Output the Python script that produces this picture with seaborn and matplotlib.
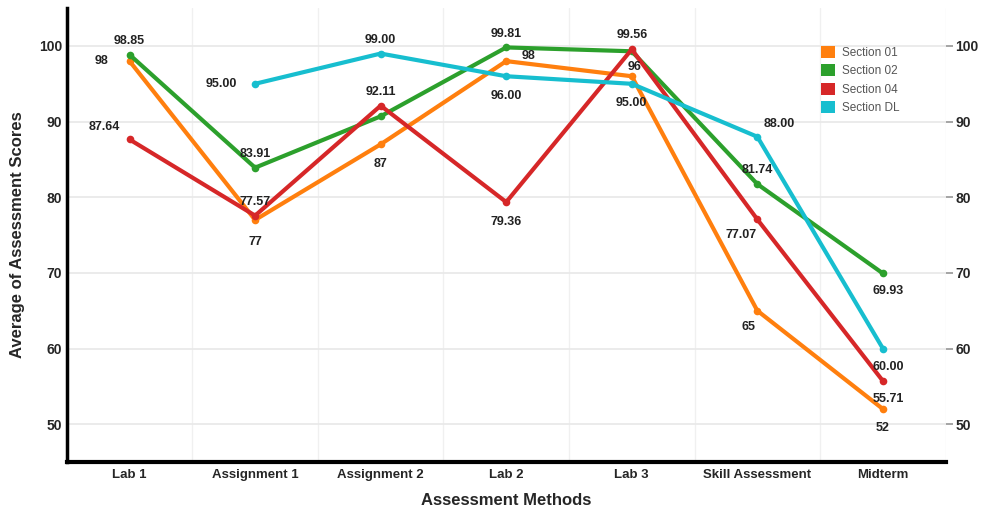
import numpy as np
import matplotlib
matplotlib.use("Agg")
import matplotlib.pyplot as plt
import pandas as pd
import seaborn as sns
from matplotlib.patches import Patch


categories = ["Lab 1", "Assignment 1", "Assignment 2", "Lab 2", "Lab 3", "Skill Assessment", "Midterm"]
sections = ["Section 01", "Section 02", "Section 04", "Section DL"]

section_01 = [98, 77, 87, 98, 96, 65, 52]
section_02 = [98.85, 83.91, 90.7, 99.81, 99.3, 81.74, 69.93]
section_04 = [87.64, 77.57, 92.11, 79.36, 99.56, 77.07, 55.71]
section_dl = [np.nan, 95.00, 99.00, 96.00, 95.00, 88.00, 60.00]

labels_01 = ["98", "77", "87", "98", "96", "65", "52"]
labels_02 = ["98.85", "83.91", None, "99.81", None, "81.74", "69.93"]
labels_04 = ["87.64", "77.57", "92.11", "79.36", "99.56", "77.07", "55.71"]
labels_dl = [None, "95.00", "99.00", "96.00", "95.00", "88.00", "60.00"]

colors = ["#ff7f0e", "#2ca02c", "#d62728", "#17becf"]

# label offsets in points (dx, dy), per section
offsets = {
    "Section 01": [(-20, 0), (0, -16), (0, -14), (16, 4), (2, 7), (-6, -12), (0, -14)],
    "Section 02": [(0, 10), (0, 10), (0, 0), (0, 10), (0, 0), (0, 10), (4, -13)],
    "Section 04": [(-18, 9), (0, 10), (0, 10), (0, -14), (0, 10), (-12, -11), (4, -13)],
    "Section DL": [(0, 0), (-24, 0), (0, 10), (0, -14), (0, -14), (16, 9), (4, -13)],
}

values = [section_01, section_02, section_04, section_dl]
labels = [labels_01, labels_02, labels_04, labels_dl]

df = pd.DataFrame(
    {
        "method": categories * len(sections),
        "section": [s for s in sections for _ in categories],
        "score": [v for vals in values for v in vals],
    }
)

sns.set_theme(style="white")
plt.rcParams["font.family"] = ["Liberation Sans", "DejaVu Sans"]

fig = plt.figure(figsize=(9.82, 5.11), dpi=100)
ax = fig.add_axes([0.068, 0.096, 0.895, 0.888])

sns.lineplot(
    data=df.dropna(),
    x="method",
    y="score",
    hue="section",
    palette=colors,
    sort=False,
    linewidth=3,
    marker="o",
    markersize=5.5,
    markeredgewidth=0,
    legend=False,
    ax=ax,
)

for sec, vals, labs in zip(sections, values, labels):
    for i, (v, lab) in enumerate(zip(vals, labs)):
        if lab is None or np.isnan(v):
            continue
        dx, dy = offsets[sec][i]
        ax.annotate(
            lab,
            (i, v),
            xytext=(dx, dy),
            textcoords="offset points",
            ha="center",
            va="center",
            fontsize=9,
            fontweight="bold",
            color="#222222",
        )

ax.set_xlim(-0.5, 6.5)
ax.set_ylim(45, 105)
ax.set_yticks([50, 60, 70, 80, 90, 100])
ax.set_xticks(range(len(categories)))
ax.set_xticklabels(categories, fontsize=9.5, fontweight="bold")
ax.set_xticks(np.arange(-0.5, 7, 1), minor=True)
ax.tick_params(axis="x", which="major", length=0, pad=5)
ax.tick_params(axis="x", which="minor", length=4, color="#888888", width=0.8)
ax.tick_params(axis="y", length=0, labelsize=10)
for t in ax.get_yticklabels():
    t.set_fontweight("bold")

ax.grid(axis="y", color="#e8e8e8", linewidth=1.2)
ax.grid(axis="x", which="minor", color="#f0f0f0", linewidth=1)
ax.set_axisbelow(True)

for side in ["top", "right"]:
    ax.spines[side].set_visible(False)
ax.spines["left"].set_linewidth(2.5)
ax.spines["bottom"].set_linewidth(3)
ax.spines["left"].set_color("black")
ax.spines["bottom"].set_color("black")

ax.set_xlabel("Assessment Methods", fontsize=12, fontweight="bold", labelpad=9)
ax.set_ylabel("Average of Assessment Scores", fontsize=12, fontweight="bold", labelpad=10)

ax2 = ax.twinx()
ax2.set_ylim(ax.get_ylim())
ax2.set_yticks([50, 60, 70, 80, 90, 100])
ax2.tick_params(axis="y", length=5, color="#999999", labelsize=10, pad=2)
for t in ax2.get_yticklabels():
    t.set_fontweight("bold")
for side in ["top", "right", "left", "bottom"]:
    ax2.spines[side].set_visible(False)

handles = [Patch(facecolor=c, edgecolor="none") for c in colors]
leg = ax.legend(
    handles,
    sections,
    loc="upper right",
    bbox_to_anchor=(0.96, 0.94),
    frameon=False,
    fontsize=8.5,
    handlelength=1.2,
    handleheight=1.2,
    labelspacing=0.45,
    handletextpad=0.6,
)
for t in leg.get_texts():
    t.set_color("#555555")

fig.savefig("out.png", dpi=100)
